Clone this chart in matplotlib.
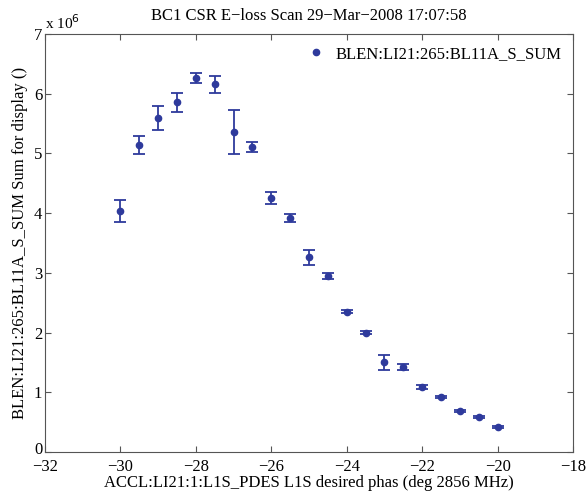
import numpy as np
import matplotlib
matplotlib.use("Agg")
import matplotlib.pyplot as plt
import matplotlib.transforms as mtrans
from matplotlib.lines import Line2D

# datos
fase = [-30, -29.5, -29, -28.5, -28, -27.5, -27, -26.5, -26, -25.5, -25,
        -24.5, -24, -23.5, -23, -22.5, -22, -21.5, -21, -20.5, -20]
suma = [4.04, 5.14, 5.59, 5.86, 6.26, 6.16, 5.36, 5.11, 4.26, 3.92, 3.26,
        2.94, 2.35, 2.00, 1.50, 1.42, 1.09, 0.92, 0.69, 0.59, 0.42]
error = [0.18, 0.15, 0.20, 0.16, 0.08, 0.14, 0.37, 0.08, 0.10, 0.06, 0.13,
         0.05, 0.03, 0.02, 0.13, 0.05, 0.03, 0.02, 0.02, 0.02, 0.02]
etiqueta = "BLEN:LI21:265:BL11A_S_SUM"

azul = "#2e3a9c"
plt.rcParams["font.family"] = ["Liberation Serif", "DejaVu Serif"]

fig = plt.figure(figsize=(5.87, 4.93), dpi=100)
ax = fig.add_axes([45 / 587, 41 / 493, 528 / 587, 418 / 493])

y = np.array(suma) * 1e6
e = np.array(error) * 1e6
ax.errorbar(fase, y, yerr=e, fmt="o", color=azul, ms=4.5, elinewidth=1.3,
            capsize=4, capthick=1.3)

ax.set_xlim(-32, -18)
ax.set_ylim(0, 7e6)
ax.set_xticks(np.arange(-32, -17, 2))
ax.set_yticks(np.arange(0, 8) * 1e6)
ax.set_yticklabels([str(i) for i in range(8)])
ax.tick_params(direction="in", top=True, right=True, labelsize=12, length=4,
               color="#555555")
ax.tick_params(axis="x", pad=5)
ax.tick_params(axis="y", pad=2)
for s in ax.spines.values():
    s.set_color("#555555")
ax.set_xticklabels(["\u221232", "\u221230", "\u221228", "\u221226", "\u221224",
                    "\u221222", "\u221220", "\u221218"])

# subir un poco el "0" para que no choque con el -32
cero = ax.get_yticklabels()[0]
cero.set_transform(cero.get_transform() + mtrans.ScaledTranslation(0, 3 / 72, fig.dpi_scale_trans))

ax.text(0.0, 1.005, "x 10$^6$", transform=ax.transAxes, fontsize=11, va="bottom")

ax.set_title("BC1 CSR E\u2212loss Scan 29\u2212Mar\u22122008 17:07:58", fontsize=12, pad=10)
ax.set_xlabel("ACCL:LI21:1:L1S_PDES L1S desired phas (deg 2856 MHz)", fontsize=12, labelpad=0)
ax.set_ylabel("BLEN:LI21:265:BL11A_S_SUM Sum for display ()", fontsize=12, labelpad=4)

marca = Line2D([], [], marker="o", ls="none", color=azul, ms=4.5)
ax.legend([marca], [etiqueta], loc="upper right", frameon=False, fontsize=12,
          handletextpad=0.4, handlelength=1.5, borderaxespad=0.3)

fig.savefig("out.png", dpi=100)
